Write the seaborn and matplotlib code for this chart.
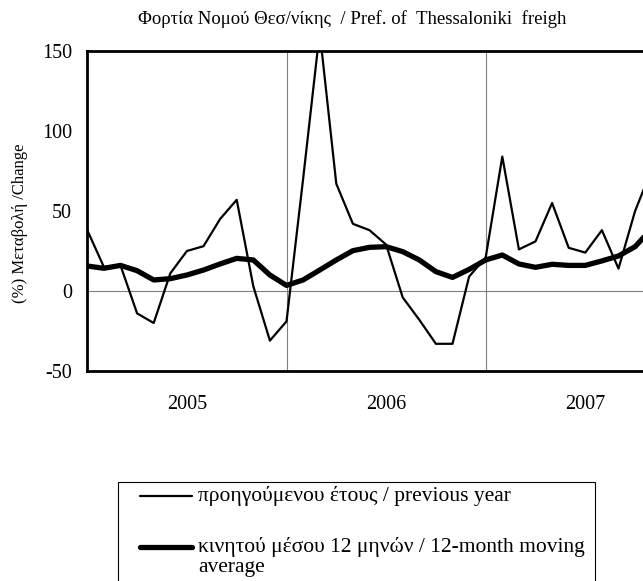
import numpy as np
import pandas as pd
import matplotlib
matplotlib.use("Agg")
import matplotlib.pyplot as plt
from matplotlib.lines import Line2D
from matplotlib.patches import Rectangle
import seaborn as sns

# monthly % change vs previous year (starts at the 2005 boundary)
prev_year = [38, 15, 16, -14, -20, 11, 25, 28, 45, 57, 3, -31,
             -19, 70, 162, 67, 42, 38, 29, -4, -18, -33, -33, 9,
             21, 84, 26, 31, 55, 27, 24, 38, 14, 50, 76]
moving_avg = [15.6, 14.2, 16, 12.7, 6.9, 7.7, 10, 13.1, 16.9, 20.4, 19.4, 10,
              3.5, 6.9, 13.1, 19.4, 25.2, 27.3, 27.7, 24.6, 19.4, 12.1, 8.5, 13.5,
              19.4, 22.5, 16.9, 14.8, 16.7, 16, 16, 18.8, 21.9, 27.7, 39]
years = ["2005", "2006", "2007"]
y_ticks = [-50, 0, 50, 100, 150]

title = "Φορτία Νομού Θεσ/νίκης  / Pref. of  Thessaloniki  freigh"
ylabel = "(%) Μεταβολή /Change"
label_prev = "προηγούμενου έτους / previous year"
label_ma = "κινητού μέσου 12 μηνών / 12-month moving\naverage"

df = pd.DataFrame({
    "month": np.arange(len(prev_year)),
    "prev": prev_year,
    "ma": moving_avg,
})

sns.set_style("white")
plt.rcParams["font.family"] = ["Liberation Serif", "DejaVu Serif"]
plt.rcParams["text.color"] = "black"
plt.rcParams["xtick.color"] = "black"
plt.rcParams["ytick.color"] = "black"

W, H = 643, 581
fig = plt.figure(figsize=(W / 100, H / 100), dpi=100)


def px(x, y):
    return x / W, 1 - y / H


left, top = 87.3, 51
right, bottom = 87.3 + 36 * 16.6, 371
ax = fig.add_axes([left / W, 1 - bottom / H, (right - left) / W, (bottom - top) / H])

# separators and zero line
for i in range(1, len(years) + 1):
    ax.axvline(12 * i, color="#7f7f7f", lw=0.8, zorder=1)
ax.axhline(0, color="#7f7f7f", lw=0.8, zorder=1)

sns.lineplot(data=df, x="month", y="prev", ax=ax, color="black", lw=1.6, zorder=3)
sns.lineplot(data=df, x="month", y="ma", ax=ax, color="black", lw=3.8, zorder=4)

ax.set_xlim(0, 36)
ax.set_ylim(-50, 150)
ax.set_xticks([6 + 12 * i for i in range(len(years))])
ax.set_xticklabels(years, fontsize=14.5)
ax.set_yticks(y_ticks)
ax.set_yticklabels([str(v) for v in y_ticks], fontsize=14.5)
ax.tick_params(axis="x", length=0, pad=17)
ax.tick_params(axis="y", direction="in", length=4, width=1, pad=11)
ax.set_xlabel("")
ax.set_ylabel("")
for s in ["left", "top", "bottom"]:
    ax.spines[s].set_linewidth(2)
    ax.spines[s].set_color("black")
ax.spines["right"].set_visible(False)

fig.text(*px(352, 19), title, ha="center", va="center", fontsize=13.5)
fig.text(*px(20, 223), ylabel, ha="center", va="center", rotation=90, fontsize=12)

# legend box (runs past the bottom of the picture)
x0, y0 = px(118, 610)
x1, y1 = px(595, 482)
fig.add_artist(Rectangle((x0, y0), x1 - x0, y1 - y0, transform=fig.transFigure,
                         fill=False, edgecolor="black", lw=0.8))
for yy, lw in [(496, 1.6), (547, 3.8)]:
    fig.add_artist(Line2D([140 / W, 192 / W], [1 - yy / H] * 2, transform=fig.transFigure,
                          color="black", lw=lw))
fig.text(*px(198, 496), label_prev, ha="left", va="center", fontsize=15.5)
fig.text(*px(198, 537), label_ma, ha="left", va="top", fontsize=15.5, linespacing=1.06)

fig.savefig("out.png", dpi=100)
